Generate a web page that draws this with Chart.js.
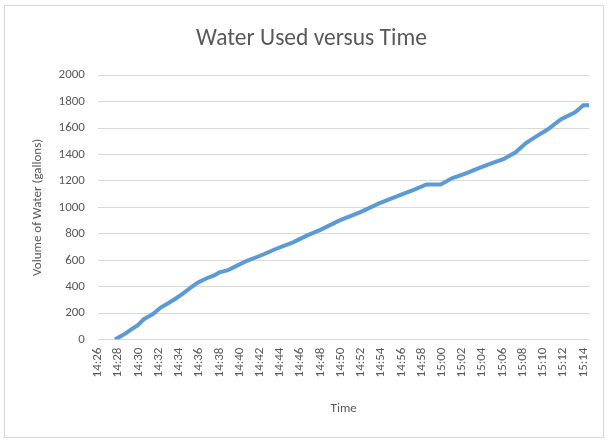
<!DOCTYPE html>
<html>
<head>
<meta charset="utf-8">
<script src="https://cdn.jsdelivr.net/npm/chart.js@4/dist/chart.umd.min.js"></script>
<style>
  body { margin: 0; background: #fff; }
  #wrap { position: absolute; left: 0; top: 0; width: 607px; height: 441px; }
  #frame { position: absolute; left: 4px; top: 5px; width: 598px; height: 431px; border: 1px solid #d9d9d9; }
</style>
</head>
<body>
<div id="frame"></div>
<div id="wrap"><canvas id="myChart"></canvas></div>
<script>
'use strict';

// readings (time of day, gallons used)
const times = [
  '14:27:42', '14:28:12', '14:28:42', '14:29:24', '14:29:54', '14:30:30', '14:31:00',
  '14:31:30', '14:32:12', '14:32:54', '14:33:42', '14:34:24', '14:35:12', '14:35:54',
  '14:36:42', '14:37:30', '14:38:00', '14:38:48', '14:39:48', '14:40:48', '14:42:06',
  '14:43:42', '14:45:18', '14:46:42', '14:48:00', '14:49:54', '14:51:54', '14:53:48',
  '14:55:48', '14:57:06', '14:58:30', '14:59:54', '15:01:00', '15:02:24', '15:03:36',
  '15:04:54', '15:06:06', '15:07:18', '15:08:18', '15:09:12', '15:10:30', '15:11:48',
  '15:13:12', '15:14:00', '15:14:36'
];
const volumes = [
  0, 23, 45, 83, 106, 152, 174,
  197, 242, 273, 311, 348, 394, 432,
  462, 485, 508, 523, 561, 598, 636,
  689, 735, 788, 830, 902, 962, 1030,
  1091, 1129, 1174, 1174, 1220, 1258, 1295,
  1333, 1364, 1417, 1485, 1530, 1591, 1667,
  1720, 1773, 1773
];
const timeTicks = [
  '14:26', '14:28', '14:30', '14:32', '14:34', '14:36', '14:38', '14:40', '14:42',
  '14:44', '14:46', '14:48', '14:50', '14:52', '14:54', '14:56', '14:58', '15:00',
  '15:02', '15:04', '15:06', '15:08', '15:10', '15:12', '15:14'
];
const volumeTicks = [0, 200, 400, 600, 800, 1000, 1200, 1400, 1600, 1800, 2000];

// helper: "hh:mm[:ss]" -> minutes since midnight
function toMinutes(str) {
  const parts = str.split(':').map(Number);
  return parts[0] * 60 + parts[1] + (parts[2] || 0) / 60;
}

function toLabel(mins) {
  const h = Math.floor(mins / 60);
  const m = Math.round(mins - h * 60);
  return h + ':' + String(m).padStart(2, '0');
}

const points = times.map((t, i) => ({ x: toMinutes(t), y: volumes[i] }));
const grey = '#595959';
const font = "Carlito, 'Liberation Sans Narrow', Lato, sans-serif";

Chart.defaults.font.family = font;
Chart.defaults.color = grey;

const ctx = document.getElementById('myChart').getContext('2d');
const myChart = new Chart(ctx, {
  type: 'line',
  data: {
    datasets: [
      {
        label: 'Water Used',
        data: points,
        borderColor: '#5b9bd5',
        backgroundColor: '#5b9bd5',
        borderWidth: 4,
        pointRadius: 0,
        tension: 0,
      },
    ],
  },
  options: {
    responsive: true,
    maintainAspectRatio: false,
    animation: false,
    layout: {
      padding: { left: 26, right: 10, top: 12, bottom: 20 },
    },
    scales: {
      x: {
        type: 'linear',
        min: toMinutes(timeTicks[0]),
        max: toMinutes('15:14:36'),
        afterBuildTicks: (axis) => {
          axis.ticks = timeTicks.map((t) => ({ value: toMinutes(t) }));
        },
        grid: { display: false, drawTicks: false },
        border: { display: false },
        ticks: {
          autoSkip: false,
          minRotation: 90,
          maxRotation: 90,
          padding: 8,
          font: { size: 13 },
          callback: (value) => toLabel(value),
        },
        title: {
          display: true,
          text: 'Time',
          font: { size: 13 },
          padding: { top: 16 },
        },
      },
      y: {
        min: 0,
        max: 2000,
        afterBuildTicks: (axis) => {
          axis.ticks = volumeTicks.map((v) => ({ value: v }));
        },
        grid: { color: '#d9d9d9', drawTicks: false },
        border: { display: false },
        ticks: {
          padding: 13,
          font: { size: 13 },
          callback: (value) => String(value),
        },
        title: {
          display: true,
          text: 'Volume of Water (gallons)',
          font: { size: 13 },
          padding: { bottom: 0 },
        },
      },
    },
    plugins: {
      legend: { display: false },
      tooltip: { enabled: false },
      title: {
        display: true,
        text: 'Water Used versus Time',
        font: { size: 23.5, weight: 'normal' },
        color: grey,
        padding: { top: 13, bottom: 22 },
      },
    },
  },
});
</script>
</body>
</html>
